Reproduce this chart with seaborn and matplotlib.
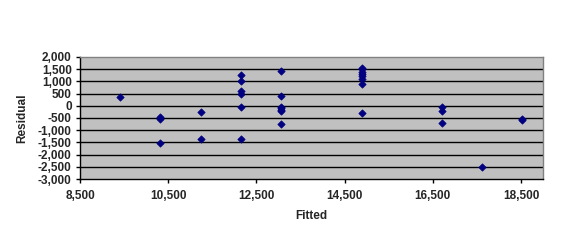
import matplotlib
matplotlib.use("Agg")
import matplotlib.pyplot as plt
import seaborn as sns
import pandas as pd
from matplotlib.ticker import FuncFormatter, FixedLocator

fitted = [9410, 10325, 10325, 10325,
          11245, 11245,
          12145, 12145, 12145, 12145, 12145, 12145,
          13055, 13055, 13055, 13055, 13055, 13055, 13055,
          14885, 14885, 14885, 14885, 14885, 14885, 14885, 14885,
          16710, 16710, 16710,
          17620,
          18530, 18530]
residual = [350, -450, -550, -1520,
            -250, -1350,
            1250, 1030, 590, 500, -40, -1350,
            1430, 410, -40, -110, -190, -200, -740,
            1540, 1490, 1400, 1310, 1210, 1110, 900, -290,
            -40, -220, -700,
            -2500,
            -530, -580]

xticks = [8500, 10500, 12500, 14500, 16500, 18500]
yticks = [2000, 1500, 1000, 500, 0, -500, -1000, -1500, -2000, -2500, -3000]

df = pd.DataFrame({"Fitted": fitted, "Residual": residual})

sns.set_style("white")
plt.rcParams["font.family"] = ["Liberation Sans", "DejaVu Sans"]

fig = plt.figure(figsize=(5.72, 2.42), dpi=100)
ax = fig.add_axes([80/572, 1-179/242, (543-80)/572, (179-57)/242])
ax.set_facecolor("#C0C0C0")

sns.scatterplot(data=df, x="Fitted", y="Residual", ax=ax, marker="D",
                color="#000080", s=14, edgecolor="#000080", linewidth=0.5, zorder=3)

ax.set_xlim(8500, 19000)
ax.set_ylim(-3000, 2000)
ax.xaxis.set_major_locator(FixedLocator(xticks))
ax.yaxis.set_major_locator(FixedLocator(yticks))
fmt = FuncFormatter(lambda v, p: f"{int(v):,}")
ax.xaxis.set_major_formatter(fmt)
ax.yaxis.set_major_formatter(fmt)

for y in yticks[1:-1]:
    ax.axhline(y, color="black", lw=1.0, zorder=1)

ax.tick_params(axis="both", direction="out", length=3, width=1, color="black",
               labelsize=8.5, pad=3, left=True, bottom=True)
ax.tick_params(axis="x", pad=5)
for lab in ax.get_xticklabels() + ax.get_yticklabels():
    lab.set_fontweight("bold")

for side in ["left", "bottom"]:
    ax.spines[side].set_color("black")
    ax.spines[side].set_linewidth(1.0)
for side in ["top", "right"]:
    ax.spines[side].set_color("#808080")
    ax.spines[side].set_linewidth(1.0)
    ax.spines[side].set_visible(True)

ax.set_xlabel("Fitted", fontsize=8.5, fontweight="bold", labelpad=6)
ax.set_ylabel("Residual", fontsize=8.5, fontweight="bold", labelpad=7)

fig.savefig("out.png", dpi=100, facecolor="white")
